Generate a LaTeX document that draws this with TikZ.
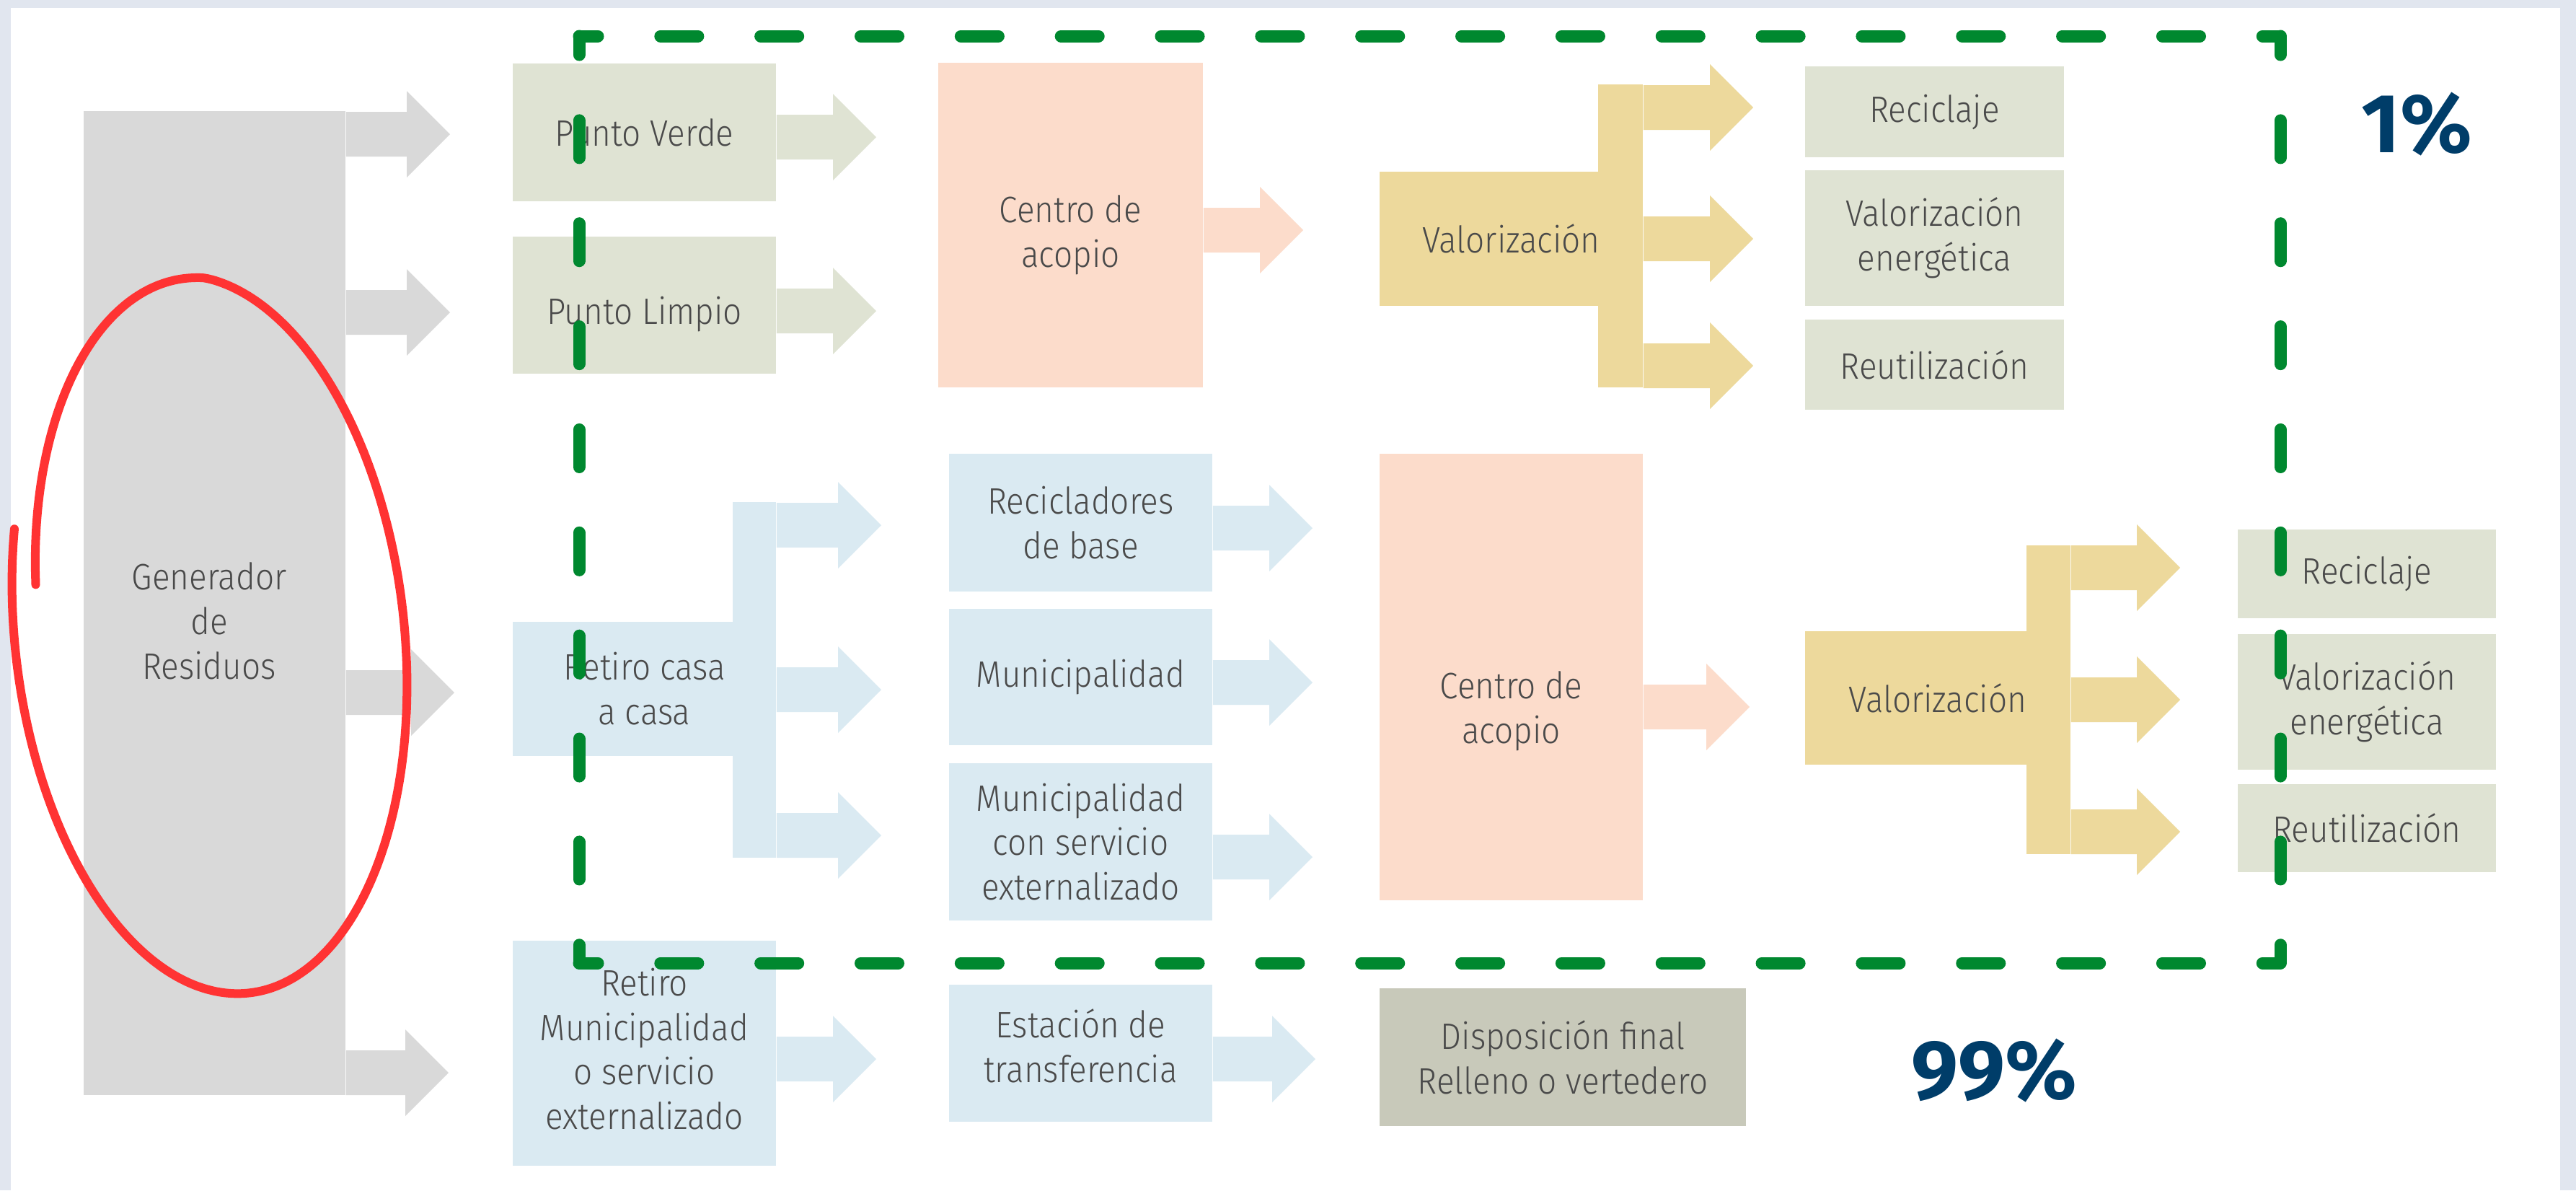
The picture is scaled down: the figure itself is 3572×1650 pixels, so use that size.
\documentclass[tikz,border=0pt]{standalone}
\usepackage{fontspec}
\setmainfont{Fira Sans Light}[FakeStretch=0.9]
\newfontfamily\cifras{Fira Sans}
\usetikzlibrary{calc}

\definecolor{fondo}{HTML}{E1E6EF}
\definecolor{gris}{HTML}{D9D9D9}
\definecolor{salvia}{HTML}{DFE3D3}
\definecolor{durazno}{HTML}{FCDCCB}
\definecolor{celeste}{HTML}{DAEAF2}
\definecolor{arena}{HTML}{EDD99C}
\definecolor{dispo}{HTML}{C8C9BA}
\definecolor{texto}{HTML}{4A4A4A}
\definecolor{verde}{HTML}{00882F}
\definecolor{rojo}{HTML}{FF3333}
\definecolor{marino}{HTML}{003D69}

\tikzset{
  caja/.style={rectangle, inner sep=0pt, align=center, text=texto,
    font=\fontsize{14.5pt}{17.6pt}\selectfont},
  pct/.style={text=marino, inner sep=0pt,
    font=\cifras\bfseries\fontsize{33pt}{33pt}\selectfont},
  guion/.style={verde, line width=0.17cm, line cap=round,
    dash pattern=on 0.52cm off #1, dash phase=0.26cm}
}

% flecha gruesa: color, inicio, punta
\newcommand{\flecha}[3]{%
  \fill[#1] ($#2+(0,-31)$) -- ($#3+(-60,-31)$) -- ($#3+(-60,-60)$) -- #3
    -- ($#3+(-60,60)$) -- ($#3+(-60,31)$) -- ($#2+(0,31)$) -- cycle;}

\begin{document}
\begin{tikzpicture}[x=0.01cm, y=-0.01cm]
  % marco
  \fill[fondo] (0,0) rectangle (3572,1650);
  \fill[white] (15,11) rectangle (3550,1650);
  \useasboundingbox (0,0) rectangle (3572,1650);

  % generador
  \node[caja, fill=gris, minimum width=3.63cm, minimum height=13.64cm] (gen) at (297.5,836) {};
  \flecha{gris}{(gen.east |- 0,186)}{(624,186)}
  \flecha{gris}{(gen.east |- 0,433)}{(624,433)}
  \flecha{gris}{(gen.east |- 0,960)}{(630,960)}
  \flecha{gris}{(gen.east |- 0,1487)}{(622,1487)}
  \node[caja] (gentxt) at (290,861) {Generador\\de\\Residuos};

  % fila superior
  \node[caja, fill=salvia, minimum width=3.65cm, minimum height=1.91cm] (pv) at (893.5,183.5) {Punto Verde};
  \node[caja, fill=salvia, minimum width=3.65cm, minimum height=1.90cm] (pl) at (893.5,423) {};
  \node[caja] (pltxt) at (893.5,436) {Punto Limpio};
  \flecha{salvia}{(pv.east |- 0,190)}{(1215,190)}
  \flecha{salvia}{(pl.east |- 0,431)}{(1215,431)}

  \node[caja, fill=durazno, minimum width=3.67cm, minimum height=4.5cm] (ca1) at (1484.5,312) {};
  \node[caja] (ca1txt) at (1484.5,326) {Centro de\\acopio};
  \flecha{durazno}{(ca1.east |- 0,319)}{(1807,319)}

  \fill[arena] (2216,117) rectangle (2278,537);
  \node[caja, fill=arena, minimum width=3.65cm, minimum height=1.86cm] (val1) at (2095.5,331) {Valorización};
  \flecha{arena}{(val1.east |- 0,149)}{(2431,149)}
  \flecha{arena}{(val1.east |- 0,331)}{(2431,331)}
  \flecha{arena}{(val1.east |- 0,507)}{(2431,507)}

  \node[caja, fill=salvia, minimum width=3.59cm, minimum height=1.26cm] (rec1) at (2682.5,155) {Reciclaje};
  \node[caja, fill=salvia, minimum width=3.59cm, minimum height=1.88cm] (ve1) at (2682.5,330) {Valorización\\energética};
  \node[caja, fill=salvia, minimum width=3.59cm, minimum height=1.25cm] (reu1) at (2682.5,505.5) {Reutilización};

  % fila inferior
  \fill[celeste] (1016,696) rectangle (1076,1189);
  \node[caja, fill=celeste, minimum width=3.65cm, minimum height=1.86cm] (rcc) at (893.5,955) {Retiro casa\\a casa};
  \flecha{celeste}{(rcc.east |- 0,728)}{(1222,728)}
  \flecha{celeste}{(rcc.east |- 0,956)}{(1222,956)}
  \flecha{celeste}{(rcc.east |- 0,1158)}{(1222,1158)}

  \node[caja, fill=celeste, minimum width=3.65cm, minimum height=3.12cm] (rmu) at (893.5,1460) {};
  \node[caja] (rmutxt) at (893.5,1454) {Retiro\\Municipalidad\\o servicio\\externalizado};
  \flecha{celeste}{(rmu.east |- 0,1468)}{(1215,1468)}

  \node[caja, fill=celeste, minimum width=3.65cm, minimum height=1.91cm] (rb) at (1498.5,724.5) {Recicladores\\de base};
  \node[caja, fill=celeste, minimum width=3.65cm, minimum height=1.89cm] (mu) at (1498.5,938.5) {Municipalidad};
  \node[caja, fill=celeste, minimum width=3.65cm, minimum height=2.18cm] (mce) at (1498.5,1167) {Municipalidad\\con servicio\\externalizado};
  \node[caja, fill=celeste, minimum width=3.65cm, minimum height=1.90cm] (et) at (1498.5,1460) {};
  \node[caja] (ettxt) at (1498.5,1450) {Estación de\\transferencia};
  \flecha{celeste}{(rb.east |- 0,732)}{(1820,732)}
  \flecha{celeste}{(mu.east |- 0,946)}{(1820,946)}
  \flecha{celeste}{(mce.east |- 0,1188)}{(1820,1188)}
  \flecha{celeste}{(et.east |- 0,1468)}{(1824,1468)}

  \node[caja, fill=durazno, minimum width=3.65cm, minimum height=6.19cm] (ca2) at (2095.5,938.5) {};
  \node[caja] (ca2txt) at (2095.5,986) {Centro de\\acopio};
  \flecha{durazno}{(ca2.east |- 0,980)}{(2426,980)}

  \node[caja, fill=dispo, minimum width=5.08cm, minimum height=1.91cm] (df) at (2167,1465.5) {Disposición final\\Relleno o vertedero};

  \fill[arena] (2810,756) rectangle (2871,1184);
  \node[caja, fill=arena, minimum width=3.68cm, minimum height=1.85cm] (val2) at (2687,967.5) {Valorización};
  \flecha{arena}{(val2.east |- 0,787)}{(3023,787)}
  \flecha{arena}{(val2.east |- 0,970)}{(3023,970)}
  \flecha{arena}{(val2.east |- 0,1153)}{(3023,1153)}

  \node[caja, fill=salvia, minimum width=3.58cm, minimum height=1.23cm] (rec2) at (3282,795.5) {Reciclaje};
  \node[caja, fill=salvia, minimum width=3.58cm, minimum height=1.88cm] (ve2) at (3282,973) {Valorización\\energética};
  \node[caja, fill=salvia, minimum width=3.58cm, minimum height=1.22cm] (reu2) at (3282,1148) {Reutilización};

  % porcentajes
  \node[pct] (uno) at (3351,172) {1\%};
  \node[pct] (noventa) at (2765,1484) {99\%};

  % trazo rojo (elipse a mano, algo mas de una vuelta)
  \draw[rojo, line width=0.12cm, line cap=round] plot[smooth, domain=0:368, samples=140]
    ({290.5 + (1-0.12*max(0,\x-280)/88)*(270*cos(200.5-\x)*cos(6.3) + 500*sin(200.5-\x)*sin(6.3))},
     {879.5 + (1-0.12*max(0,\x-280)/88)*(-270*cos(200.5-\x)*sin(6.3) + 500*sin(200.5-\x)*cos(6.3))});

  % recuadro verde
  \coordinate (g1) at (803,50);
  \coordinate (g2) at (3162,50);
  \coordinate (g3) at (3162,1335);
  \coordinate (g4) at (803,1335);
  \draw[guion=0.8676cm] (g1) -- (g2);
  \draw[guion=0.9078cm] (g2) -- (g3);
  \draw[guion=0.8676cm] (g4) -- (g3);
  \draw[guion=0.9078cm] (g1) -- (g4);
\end{tikzpicture}
\end{document}
